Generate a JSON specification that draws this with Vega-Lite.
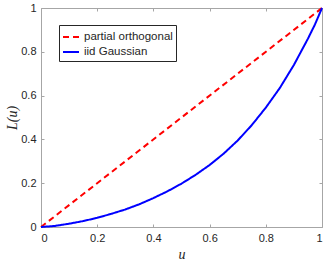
{
  "$schema": "https://vega.github.io/schema/vega-lite/v6.json",
  "width": 281,
  "height": 219,
  "autosize": "none",
  "padding": {"left": 41, "top": 8, "right": 10, "bottom": 37},
  "background": "white",
  "config": {
    "view": {"stroke": null},
    "font": "Liberation Sans",
    "axis": {
      "grid": false,
      "domainColor": "#a6a6a6",
      "tickColor": "#a6a6a6",
      "tickSize": -3,
      "labelColor": "#262626",
      "labelFont": "Liberation Sans",
      "labelFontSize": 11,
      "titleColor": "#262626",
      "titleFont": "Liberation Serif",
      "titleFontStyle": "italic",
      "titleFontWeight": "normal",
      "titleFontSize": 14
    }
  },
  "data": {
    "values": [
      {"series": "partial orthogonal", "u": 0, "L": 0},
      {"series": "partial orthogonal", "u": 1, "L": 1},
      {"series": "iid Gaussian", "u": 0, "L": 0},
      {"series": "iid Gaussian", "u": 0.05, "L": 0.005},
      {"series": "iid Gaussian", "u": 0.1, "L": 0.015},
      {"series": "iid Gaussian", "u": 0.15, "L": 0.027},
      {"series": "iid Gaussian", "u": 0.2, "L": 0.042},
      {"series": "iid Gaussian", "u": 0.25, "L": 0.06},
      {"series": "iid Gaussian", "u": 0.3, "L": 0.08},
      {"series": "iid Gaussian", "u": 0.35, "L": 0.104},
      {"series": "iid Gaussian", "u": 0.4, "L": 0.132},
      {"series": "iid Gaussian", "u": 0.45, "L": 0.163},
      {"series": "iid Gaussian", "u": 0.5, "L": 0.198},
      {"series": "iid Gaussian", "u": 0.55, "L": 0.238},
      {"series": "iid Gaussian", "u": 0.6, "L": 0.283},
      {"series": "iid Gaussian", "u": 0.65, "L": 0.335},
      {"series": "iid Gaussian", "u": 0.7, "L": 0.395},
      {"series": "iid Gaussian", "u": 0.75, "L": 0.465},
      {"series": "iid Gaussian", "u": 0.8, "L": 0.545},
      {"series": "iid Gaussian", "u": 0.85, "L": 0.635},
      {"series": "iid Gaussian", "u": 0.9, "L": 0.74},
      {"series": "iid Gaussian", "u": 0.95, "L": 0.86},
      {"series": "iid Gaussian", "u": 0.975, "L": 0.925},
      {"series": "iid Gaussian", "u": 1, "L": 1}
    ]
  },
  "layer": [
    {
      "mark": {"type": "line", "strokeWidth": 2},
      "encoding": {
        "x": {
          "field": "u", "type": "quantitative",
          "scale": {"domain": [0, 1], "nice": false},
          "axis": {"title": "u", "values": [0, 0.2, 0.4, 0.6, 0.8, 1], "labelPadding": 8, "titlePadding": 4, "labelExpr": "datum.value == 0 || datum.value == 1 ? format(datum.value, 'd') : format(datum.value, '.1f')"}
        },
        "y": {
          "field": "L", "type": "quantitative",
          "scale": {"domain": [0, 1], "nice": false},
          "axis": {"title": "L(u)", "values": [0, 0.2, 0.4, 0.6, 0.8, 1], "labelPadding": 8, "titlePadding": 1, "labelExpr": "datum.value == 0 || datum.value == 1 ? format(datum.value, 'd') : format(datum.value, '.1f')"}
        },
        "color": {
          "field": "series", "type": "nominal",
          "scale": {"domain": ["partial orthogonal", "iid Gaussian"], "range": ["#ff0000", "#0000ff"]},
          "legend": {
            "title": null,
            "orient": "none",
            "legendX": 18,
            "legendY": 17,
            "symbolType": "stroke",
            "symbolSize": 256,
            "symbolStrokeWidth": 2,
            "labelFont": "Liberation Sans",
            "labelFontSize": 11.5,
            "labelColor": "#262626",
            "labelOffset": 4,
            "rowPadding": -2,
            "padding": 3,
            "strokeColor": "#262626",
            "fillColor": "white"
          }
        },
        "strokeDash": {
          "field": "series", "type": "nominal",
          "scale": {"domain": ["partial orthogonal", "iid Gaussian"], "range": [[6, 4], [1, 0]]}
        }
      }
    },
    {
      "mark": {"type": "line", "opacity": 0},
      "encoding": {
        "x": {"field": "u", "type": "quantitative", "axis": {"orient": "top", "labels": false, "title": null, "values": [0, 0.2, 0.4, 0.6, 0.8, 1]}},
        "y": {"field": "L", "type": "quantitative", "axis": {"orient": "right", "labels": false, "title": null, "values": [0, 0.2, 0.4, 0.6, 0.8, 1]}}
      }
    }
  ],
  "resolve": {"axis": {"x": "independent", "y": "independent"}}
}
